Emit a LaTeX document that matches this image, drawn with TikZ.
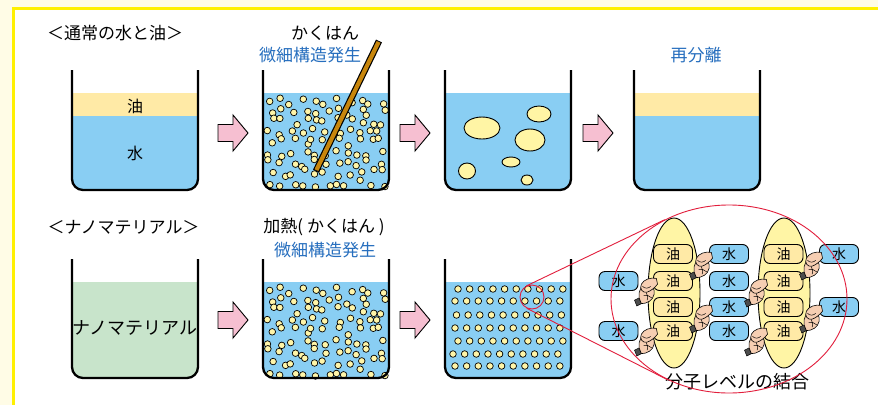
\documentclass[tikz,border=0pt]{standalone}
\usepackage{fontspec}
\setmainfont{Noto Sans CJK JP}
\usetikzlibrary{shapes.geometric}

\definecolor{cream}{RGB}{255,252,230}
\definecolor{frameyellow}{RGB}{255,240,0}
\definecolor{waterc}{RGB}{137,206,243}
\definecolor{oilc}{RGB}{255,234,166}
\definecolor{dotc}{RGB}{255,245,168}
\definecolor{nanoc}{RGB}{200,228,203}
\definecolor{pinkc}{RGB}{246,191,209}
\definecolor{bluetext}{RGB}{38,110,190}
\definecolor{rodc}{RGB}{200,134,12}
\definecolor{skin}{RGB}{246,206,178}
\definecolor{zoomred}{RGB}{226,30,60}
\definecolor{molyellow}{RGB}{255,245,165}

% beaker outline: open at the top, rounded bottom corners
\newcommand\drawbeaker[3]{%
  \draw[beakerwall] (#1,#2) -- (#1,#3) -- (#1+126,#3) -- (#1+126,#2);}
% liquid filling a beaker: x, wall top, bottom, liquid top, colour
\newcommand\fillbeaker[5]{%
  \begin{scope}
    \clip[rounded corners=11pt] (#1,#2) rectangle (#1+126,#3);
    \fill[#5] (#1-2,#4) rectangle (#1+128,#3+2);
  \end{scope}}
% pink block arrow: left x, centre y
\newcommand\blockarrow[2]{%
  \filldraw[arrowshape] (#1,#2-8.5) -- (#1+15,#2-8.5) -- (#1+15,#2-18)
    -- (#1+30,#2) -- (#1+15,#2+18) -- (#1+15,#2+8.5) -- (#1,#2+8.5) -- cycle;}
% two clasped hands
\newcommand\handshake[2]{%
  \begin{scope}[shift={(#1,#2)}, scale=1.15]
    % dark cuff of the lower arm
    \filldraw[fill=black!70, draw=black, line width=0.5pt]
      (-10,8) -- (-6,6) -- (-4,11) -- (-8,13) -- cycle;
    % lower hand
    \filldraw[fill=skin, draw=black, line width=0.6pt]
      (-6,6) .. controls (-7,0) and (-4,-5) .. (1,-6)
      .. controls (5,-6) and (8,-2) .. (7,3)
      .. controls (6,8) and (1,11) .. (-4,11) -- cycle;
    % upper hand reaching over it
    \filldraw[fill=skin, draw=black, line width=0.6pt]
      (9,-11) .. controls (4,-12) and (-2,-10) .. (-4,-6)
      .. controls (-6,-2) and (-3,2) .. (1,1)
      .. controls (4,0) and (8,-3) .. (10,-6) -- cycle;
    % fingers
    \draw[line width=0.5pt] (-3,-4) .. controls (-1,-2) and (2,-2) .. (4,-4);
    \draw[line width=0.5pt] (-2,4) .. controls (0,3) and (3,4) .. (5,6);
    \draw[line width=0.5pt] (0,1) .. controls (1,3) and (2,5) .. (1,8);
  \end{scope}}

\begin{document}
\begin{tikzpicture}[x=1pt,y=-1pt,
  beakerwall/.style={line width=2.3pt, rounded corners=11pt, line join=round},
  dot/.style={fill=dotc, draw=black, line width=0.7pt},
  arrowshape/.style={fill=pinkc, draw=black, line width=0.9pt, line join=miter},
  label/.style={inner sep=0pt, font=\fontsize{17}{17}\selectfont},
  bluelabel/.style={label, text=bluetext},
  molbox/.style={rounded corners=6pt, draw=black, line width=0.9pt,
    minimum width=39pt, minimum height=19pt, inner sep=0pt,
    font=\fontsize{14}{14}\selectfont},
  oilbox/.style={molbox, fill=oilc},
  waterbox/.style={molbox, fill=waterc},
  bubble/.style={fill=molyellow, draw=black, line width=0.9pt},
  zoomline/.style={draw=zoomred, line width=0.9pt}]

\useasboundingbox (0,0) rectangle (878,405);

% page background and yellow frame
\fill[cream] (0,0) rectangle (878,405);
\fill[white] (13.5,9) rectangle (878,405);
\draw[frameyellow, line width=2.6pt] (13.5,405) -- (13.5,8.5) -- (878,8.5);

% ---------- top row: ordinary water and oil ----------
\node[label] (titleA) at (115,33) {＜通常の水と油＞};

% beaker 1: separated layers
\fillbeaker{72}{70}{190}{93}{oilc}
\fillbeaker{72}{70}{190}{116}{waterc}
\drawbeaker{72}{70}{190}
\node[label, font=\fontsize{16}{16}\selectfont] (oilA) at (135,106) {油};
\node[label, font=\fontsize{16}{16}\selectfont] (waterA) at (135,153) {水};

\blockarrow{218}{133}

% beaker 2: stirred, fine droplets (jittered grid)
\node[label] (stirA) at (325,33) {かくはん};
\node[bluelabel] (fineA) at (310,55) {微細構造発生};
\fillbeaker{263}{70}{190}{93}{waterc}
\pgfmathsetseed{91}
\foreach \r in {0,...,8}{
  \foreach \c in {0,...,10}{
    \pgfmathsetmacro\dx{271+11*\c+9*(rnd-0.5)}
    \pgfmathsetmacro\dy{101+10.3*\r+8*(rnd-0.5)}
    \draw[dot] (\dx,\dy) circle[radius=3.3pt];
  }
}
\drawbeaker{263}{70}{190}
% stirring rod
\draw[line width=6.6pt, black] (379,41) -- (316,171);
\draw[line width=4.2pt, rodc, shorten <=1pt, shorten >=1pt] (379,41) -- (316,171);

\blockarrow{400}{133}

% beaker 3: droplets merge into drops
\fillbeaker{445}{70}{190}{93}{waterc}
\draw[bubble] (482,128) ellipse[x radius=18pt, y radius=11pt];
\draw[bubble] (539,114) ellipse[x radius=12pt, y radius=8pt];
\draw[bubble] (530,140) ellipse[x radius=15pt, y radius=11pt];
\draw[bubble] (511,162) ellipse[x radius=9pt, y radius=5pt];
\draw[bubble] (467,171) ellipse[x radius=8.5pt, y radius=8pt];
\draw[bubble] (527,180) ellipse[x radius=6pt, y radius=5pt];
\drawbeaker{445}{70}{190}

\blockarrow{583}{133}

% beaker 4: separated again
\node[bluelabel] (resepA) at (696,55) {再分離};
\fillbeaker{634}{70}{190}{93}{oilc}
\fillbeaker{634}{70}{190}{116}{waterc}
\drawbeaker{634}{70}{190}

% ---------- bottom row: nanomaterial ----------
\node[label] (titleB) at (123.5,227) {＜ナノマテリアル＞};

\fillbeaker{72}{259}{378}{282}{nanoc}
\drawbeaker{72}{259}{378}
\node[label, font=\fontsize{18}{18}\selectfont] (nanoB) at (135,328) {ナノマテリアル};

\blockarrow{218}{320}

\node[label] (heatB) at (324,227) {加熱( かくはん )};
\node[bluelabel] (fineB) at (325,250) {微細構造発生};
\fillbeaker{263}{259}{378}{282}{waterc}
\pgfmathsetseed{91}
\foreach \r in {0,...,8}{
  \foreach \c in {0,...,10}{
    \pgfmathsetmacro\dx{271+11*\c+9*(rnd-0.5)}
    \pgfmathsetmacro\dy{290+10.3*\r+8*(rnd-0.5)}
    \draw[dot] (\dx,\dy) circle[radius=3.3pt];
  }
}
\drawbeaker{263}{259}{378}

\blockarrow{400}{320}

% beaker 3: evenly dispersed fine structure
\fillbeaker{445}{259}{378}{282}{waterc}
\foreach \y/\s in {289/458, 301/455, 315/456.5, 328/455, 341/458, 354/453, 366/455}{
  \foreach \k in {0,...,9}{
    \draw[dot] (\s+11.65*\k,\y) circle[radius=3.3pt];
  }
}
\drawbeaker{445}{259}{378}

% ---------- magnified view: molecular bonding ----------
\fill[molyellow] (674,293) ellipse[x radius=26pt, y radius=75pt];
\draw[black, line width=0.9pt] (674,293) ellipse[x radius=26pt, y radius=75pt];
\fill[molyellow] (784,293) ellipse[x radius=26pt, y radius=75pt];
\draw[black, line width=0.9pt] (784,293) ellipse[x radius=26pt, y radius=75pt];

\foreach \y [count=\n] in {254,281,307,331}{
  \node[oilbox] (oilL\n) at (673,\y) {油};
  \node[oilbox] (oilR\n) at (783.5,\y) {油};
  \node[waterbox] (waterM\n) at (729,\y) {水};
}
\node[waterbox] (waterL1) at (618.5,281) {水};
\node[waterbox] (waterL2) at (618.5,331) {水};
\node[waterbox] (waterR1) at (839,254) {水};
\node[waterbox] (waterR2) at (839,307) {水};

% handshakes joining each water molecule to an oil molecule
\handshake{646}{291}
\handshake{646}{341}
\handshake{701}{265}
\handshake{701}{318}
\handshake{756}{292}
\handshake{756}{341}
\handshake{811}{265}
\handshake{811}{318}

\node[label, font=\fontsize{18}{18}\selectfont] (bondlabel) at (737,382) {分子レベルの結合};

% magnifier: small circle in the beaker and the enlarged ellipse
\node[draw=zoomred, line width=0.9pt, circle, minimum size=24pt, inner sep=0pt] (zoomsrc) at (532,297) {};
\node[draw=zoomred, line width=0.9pt, ellipse, minimum width=236pt, minimum height=188pt, inner sep=0pt] (zoomview) at (729,299) {};
\draw[zoomline] (zoomsrc.117) -- (zoomview.129);
\draw[zoomline] (zoomsrc.245) -- (zoomview.233);

\end{tikzpicture}
\end{document}
